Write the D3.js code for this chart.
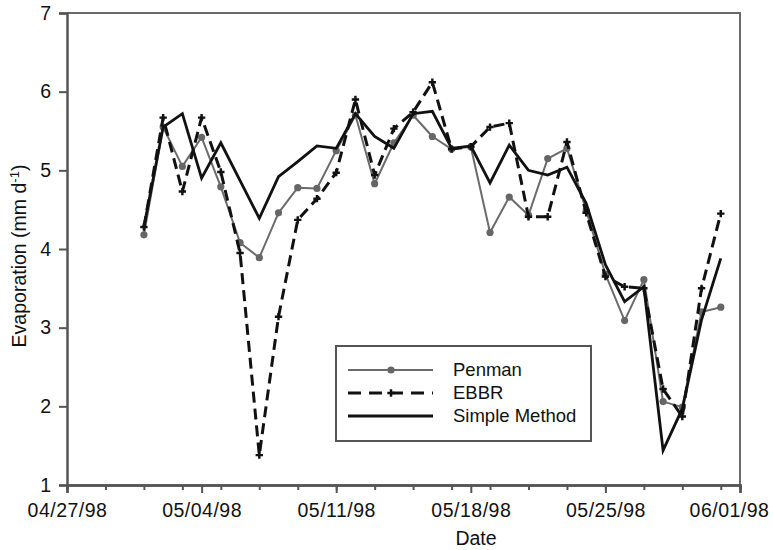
<!DOCTYPE html>
<html>
<head>
<meta charset="utf-8">
<script src="https://cdn.jsdelivr.net/npm/d3@7"></script>
<style>
  html, body { margin: 0; padding: 0; background: #fff; }
  svg { display: block; font-family: "Liberation Sans", Arial, sans-serif; }
</style>
</head>
<body>
<svg id="chart" width="773" height="550"></svg>
<script>
// Daily evaporation, May 1998
const dates = [
  "1998-05-01","1998-05-02","1998-05-03","1998-05-04","1998-05-05","1998-05-06",
  "1998-05-07","1998-05-08","1998-05-09","1998-05-10","1998-05-11","1998-05-12",
  "1998-05-13","1998-05-14","1998-05-15","1998-05-16","1998-05-17","1998-05-18",
  "1998-05-19","1998-05-20","1998-05-21","1998-05-22","1998-05-23","1998-05-24",
  "1998-05-25","1998-05-26","1998-05-27","1998-05-28","1998-05-29","1998-05-30",
  "1998-05-31"
];
const penman = [4.18,5.55,5.05,5.42,4.79,4.08,3.89,4.46,4.78,4.77,5.25,5.70,4.83,5.35,5.70,5.43,
                5.27,5.30,4.21,4.66,4.43,5.15,5.28,4.49,3.68,3.09,3.61,2.06,1.99,3.20,3.26];
const ebbr   = [4.28,5.67,4.73,5.67,4.98,3.95,1.38,3.14,4.37,4.64,4.97,5.90,4.94,5.53,5.74,6.12,
                5.27,5.30,5.55,5.60,4.41,4.41,5.36,4.46,3.65,3.52,3.50,2.22,1.87,3.50,4.45];
const simple = [4.28,5.55,5.72,4.90,5.35,4.87,4.39,4.92,5.11,5.31,5.28,5.72,5.43,5.28,5.72,5.75,
                5.28,5.31,4.84,5.32,5.00,4.94,5.04,4.58,3.80,3.33,3.52,1.44,1.97,3.10,3.88];
const yTicks = [1,2,3,4,5,6,7];
const xStart = "1998-04-27", xEnd = "1998-06-01";
const seriesNames = ["Penman","EBBR","Simple Method"];

const parse = d3.utcParse("%Y-%m-%d");
const fmt = d3.utcFormat("%m/%d/%y");

const svg = d3.select("#chart");
const m = {left: 67, right: 740, top: 13, bottom: 485};

const x = d3.scaleUtc().domain([parse(xStart), parse(xEnd)]).range([m.left, m.right]);
const y = d3.scaleLinear().domain([1, 7]).range([m.bottom, m.top]);

const axisColor = "#555";

// frame (top and right)
svg.append("path")
  .attr("d", `M${m.left},${m.top}H${m.right}V${m.bottom}`)
  .attr("fill", "none").attr("stroke", "#6a6a6a").attr("stroke-width", 2);

// minor ticks every two days, majors weekly
const minorTicks = d3.utcDay.every(2).range(parse(xStart), d3.utcDay.offset(parse(xEnd), 1));
const majorTicks = d3.utcDay.every(1).range(parse(xStart), d3.utcDay.offset(parse(xEnd), 1))
  .filter((d, i) => i % 7 === 0);

const xMinor = svg.append("g").attr("transform", `translate(0,${m.bottom})`)
  .call(d3.axisBottom(x).tickValues(minorTicks).tickSize(5).tickFormat(""));
const xAxis = svg.append("g").attr("transform", `translate(0,${m.bottom})`)
  .call(d3.axisBottom(x).tickValues(majorTicks).tickSize(8).tickPadding(10).tickFormat(fmt));
[xMinor, xAxis].forEach(g => {
  g.selectAll("line").attr("stroke", axisColor).attr("stroke-width", 2);
  g.select(".domain").attr("stroke", axisColor).attr("stroke-width", 2.5);
});
xAxis.selectAll("text").attr("font-size", 19.5).attr("fill", "#111")
  .attr("letter-spacing", 0.5)
  .attr("font-family", "Liberation Sans, Arial, sans-serif");
// keep the last date label inside the page
xAxis.selectAll(".tick text").filter((d, i, n) => i === n.length - 1).attr("dx", -11);

const yAxis = svg.append("g").attr("transform", `translate(${m.left},0)`)
  .call(d3.axisLeft(y).tickValues(yTicks).tickSize(8).tickPadding(8).tickFormat(d3.format("d")));
yAxis.selectAll("line").attr("stroke", axisColor).attr("stroke-width", 2);
yAxis.select(".domain").attr("stroke", axisColor).attr("stroke-width", 2.5);
yAxis.selectAll("text").attr("font-size", 19.5).attr("fill", "#111")
  .attr("font-family", "Liberation Sans, Arial, sans-serif");

// axis titles
svg.append("text").attr("x", 476).attr("y", 545)
  .attr("text-anchor", "middle").attr("font-size", 19.5).attr("fill", "#111").text("Date");

const yTitle = svg.append("text")
  .attr("transform", `translate(26,256) rotate(-90)`)
  .attr("text-anchor", "middle").attr("font-size", 19.5).attr("fill", "#111");
yTitle.append("tspan").text("Evaporation (mm d");
yTitle.append("tspan").attr("baseline-shift", "super").attr("font-size", 13).text("-1");
yTitle.append("tspan").text(")");

// series
const pts = vals => dates.map((d, i) => ({date: parse(d), v: vals[i]}));
const line = d3.line().x(d => x(d.date)).y(d => y(d.v));

const penmanPts = pts(penman), ebbrPts = pts(ebbr), simplePts = pts(simple);

svg.append("path").datum(penmanPts).attr("d", line)
  .attr("fill", "none").attr("stroke", "#6b6b6b").attr("stroke-width", 2).attr("stroke-linejoin", "round");
svg.append("g").selectAll("circle").data(penmanPts).join("circle")
  .attr("cx", d => x(d.date)).attr("cy", d => y(d.v)).attr("r", 3.6).attr("fill", "#666");

svg.append("path").datum(ebbrPts).attr("d", line)
  .attr("fill", "none").attr("stroke", "#111").attr("stroke-width", 3)
  .attr("stroke-dasharray", "11,6").attr("stroke-linejoin", "round");
const cross = d3.symbol(d3.symbolCross).size(30);
svg.append("g").selectAll("path").data(ebbrPts).join("path")
  .attr("transform", d => `translate(${x(d.date)},${y(d.v)})`)
  .attr("d", cross).attr("fill", "#111");

svg.append("path").datum(simplePts).attr("d", line)
  .attr("fill", "none").attr("stroke", "#111").attr("stroke-width", 2.8).attr("stroke-linejoin", "miter");

// legend
const lg = svg.append("g");
lg.append("rect").attr("x", 336).attr("y", 346).attr("width", 255).attr("height", 95)
  .attr("fill", "#fff").attr("stroke", "#555").attr("stroke-width", 2);
const rows = [370, 393, 416];
const lx1 = 348, lx2 = 433, lmid = 391;
// Penman
lg.append("line").attr("x1", lx1).attr("x2", lx2).attr("y1", rows[0]).attr("y2", rows[0])
  .attr("stroke", "#6b6b6b").attr("stroke-width", 2);
lg.append("circle").attr("cx", lmid).attr("cy", rows[0]).attr("r", 3.6).attr("fill", "#666");
// EBBR
lg.append("line").attr("x1", lx1).attr("x2", lx2).attr("y1", rows[1]).attr("y2", rows[1])
  .attr("stroke", "#111").attr("stroke-width", 3).attr("stroke-dasharray", "13,8");
lg.append("path").attr("transform", `translate(${lmid},${rows[1]})`).attr("d", cross).attr("fill", "#111");
// Simple Method
lg.append("line").attr("x1", lx1).attr("x2", lx2).attr("y1", rows[2]).attr("y2", rows[2])
  .attr("stroke", "#111").attr("stroke-width", 2.8);
lg.selectAll("text.lbl").data(seriesNames).join("text").attr("class", "lbl")
  .attr("x", 453).attr("y", (d, i) => rows[i] + 6)
  .attr("font-size", 18.5).attr("fill", "#111").text(d => d);
</script>
</body>
</html>
